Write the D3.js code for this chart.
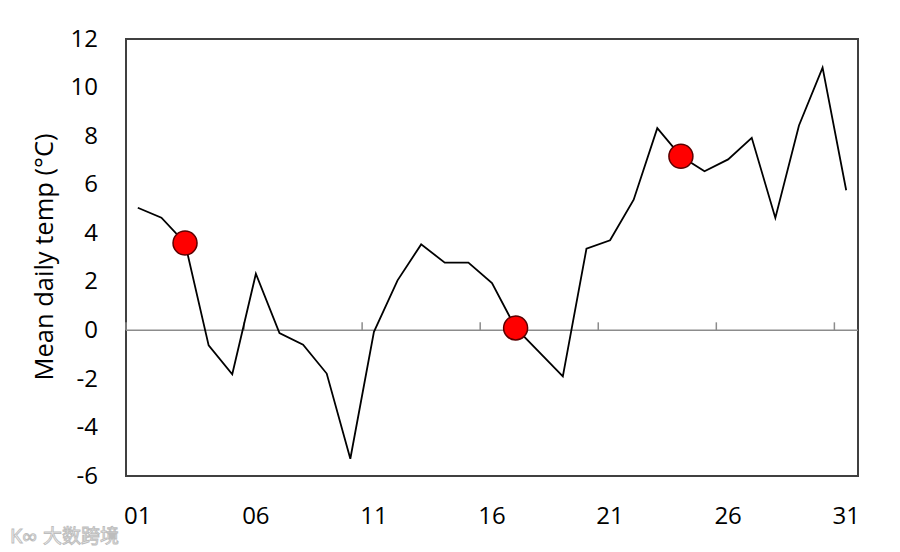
<!DOCTYPE html>
<html>
<head>
<meta charset="utf-8">
<script src="https://cdn.jsdelivr.net/npm/d3@7"></script>
<style>
  html, body { margin: 0; padding: 0; background: #fff; }
  svg { display: block; }
</style>
</head>
<body>
<svg id="chart" width="900" height="552"></svg>
<script>
const days = ["01","02","03","04","05","06","07","08","09","10","11","12","13","14","15","16","17","18","19","20","21","22","23","24","25","26","27","28","29","30","31"];
const temps = [5.05, 4.64, 3.6, -0.62, -1.81, 2.33, -0.11, -0.59, -1.78, -5.29, -0.06, 2.06, 3.54, 2.79, 2.79, 1.95, 0.1, -0.9, -1.9, 3.36, 3.71, 5.38, 8.33, 7.17, 6.55, 7.04, 7.93, 4.63, 8.44, 10.82, 5.77];
const highlightDays = ["03", "17", "24"];
const yTicks = [-6, -4, -2, 0, 2, 4, 6, 8, 10, 12];
const xLabels = ["01", "06", "11", "16", "21", "26", "31"];
const yTitle = "Mean daily temp (°C)";
const watermark = "大数跨境";

(function () {
const svg = d3.select("#chart");
const pL = 126, pR = 858, pT = 39, pB = 476;

const x = d3.scaleBand().domain(days).range([pL, pR]).padding(0);
const y = d3.scaleLinear().domain([-6, 12]).range([pB, pT]);
const cx = d => x(d) + x.bandwidth() / 2;

const font = "'Open Sans', 'Noto Sans', sans-serif";

// frame
svg.append("rect")
  .attr("x", pL).attr("y", pT)
  .attr("width", pR - pL).attr("height", pB - pT)
  .attr("fill", "none").attr("stroke", "#404040").attr("stroke-width", 2);

// zero axis line with tick marks at every 5th category boundary
const zeroG = svg.append("g");
zeroG.append("line")
  .attr("x1", pL).attr("x2", pR)
  .attr("y1", y(0)).attr("y2", y(0))
  .attr("stroke", "#8c8c8c").attr("stroke-width", 1.5);
const tickBounds = days.filter((d, i) => i % 5 === 0);
zeroG.selectAll("line.tk").data(tickBounds).enter().append("line")
  .attr("class", "tk")
  .attr("x1", d => x(d)).attr("x2", d => x(d))
  .attr("y1", y(0)).attr("y2", y(0) - 8)
  .attr("stroke", "#8c8c8c").attr("stroke-width", 1.5);

// y tick labels
svg.append("g").selectAll("text").data(yTicks).enter().append("text")
  .attr("x", 98).attr("y", d => y(d) - 1)
  .attr("dy", "0.36em")
  .attr("text-anchor", "end")
  .attr("font-family", font).attr("font-size", 24).attr("fill", "#000")
  .text(d => d);

// x labels
svg.append("g").selectAll("text").data(xLabels).enter().append("text")
  .attr("x", d => cx(d)).attr("y", 515)
  .attr("dy", "0.36em")
  .attr("text-anchor", "middle")
  .attr("font-family", font).attr("font-size", 24).attr("fill", "#000")
  .text(d => d);

// y title
svg.append("text")
  .attr("transform", `translate(44, 257) rotate(-90)`)
  .attr("text-anchor", "middle").attr("dy", "0.36em")
  .attr("font-family", font).attr("font-size", 25.5).attr("fill", "#000")
  .text(yTitle);

// line
const line = d3.line().x((d, i) => cx(days[i])).y(d => y(d));
svg.append("path").datum(temps)
  .attr("d", line)
  .attr("fill", "none").attr("stroke", "#000").attr("stroke-width", 1.8)
  .attr("stroke-linejoin", "miter");

// highlighted markers
svg.append("g").selectAll("circle").data(highlightDays).enter().append("circle")
  .attr("cx", d => cx(d))
  .attr("cy", d => y(temps[days.indexOf(d)]))
  .attr("r", 12)
  .attr("fill", "#ff0000").attr("stroke", "#5a0000").attr("stroke-width", 1.5);

// watermark
svg.append("text")
  .attr("x", 43).attr("y", 543)
  .attr("font-family", "'Noto Sans CJK SC', sans-serif").attr("font-size", 19)
  .attr("fill", "#f4f4f4").attr("stroke", "#bdbdbd").attr("stroke-width", 0.9)
  .text(watermark);
svg.append("text")
  .attr("x", 10).attr("y", 543)
  .attr("font-family", "'Noto Sans', sans-serif").attr("font-size", 20)
  .attr("fill", "#f4f4f4").attr("stroke", "#bdbdbd").attr("stroke-width", 0.9)
  .text("K∞");
})();
</script>
</body>
</html>
